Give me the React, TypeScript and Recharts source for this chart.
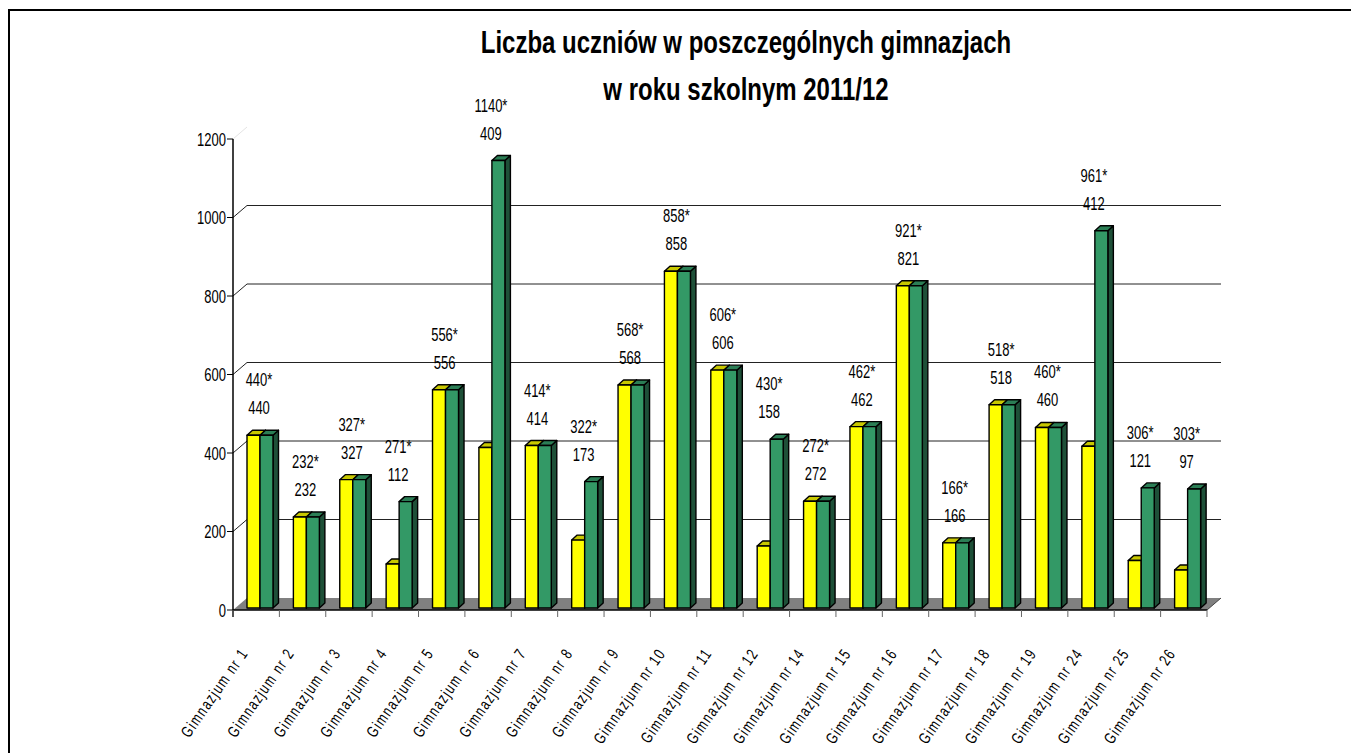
import { BarChart, Bar, XAxis, YAxis, CartesianGrid, LabelList } from 'recharts';

const categories = [
  'Gimnazjum nr 1', 'Gimnazjum nr 2', 'Gimnazjum nr 3', 'Gimnazjum nr 4', 'Gimnazjum nr 5',
  'Gimnazjum nr 6', 'Gimnazjum nr 7', 'Gimnazjum nr 8', 'Gimnazjum nr 9', 'Gimnazjum nr 10',
  'Gimnazjum nr 11', 'Gimnazjum nr 12', 'Gimnazjum nr 14', 'Gimnazjum nr 15', 'Gimnazjum nr 16',
  'Gimnazjum nr 17', 'Gimnazjum nr 18', 'Gimnazjum nr 19', 'Gimnazjum nr 24', 'Gimnazjum nr 25',
  'Gimnazjum nr 26',
];
const yellowValues = [440, 232, 327, 112, 556, 409, 414, 173, 568, 858, 606, 158, 272, 462, 821, 166, 518, 460, 412, 121, 97];
const greenValues = [440, 232, 327, 271, 556, 1140, 414, 322, 568, 858, 606, 430, 272, 462, 821, 166, 518, 460, 961, 306, 303];
const greenLabels = ['440*', '232*', '327*', '271*', '556*', '1140*', '414*', '322*', '568*', '858*', '606*', '430*', '272*', '462*', '921*', '166*', '518*', '460*', '961*', '306*', '303*'];
const yTicks = [0, 200, 400, 600, 800, 1000, 1200];
const titleLines = ['Liczba uczniów w poszczególnych gimnazjach', 'w roku szkolnym 2011/12'];

const data = categories.map((name, i) => ({
  name,
  yellow: yellowValues[i],
  green: greenValues[i],
  star: greenLabels[i],
  plain: String(yellowValues[i]),
}));

// layout
const CHART_W = 1340;
const CHART_H = 740;
const MARGIN = { top: 128, right: 143, bottom: 11, left: 163 };
const Y_W = 60;
const X_H = 130;
const PLOT_TOP = MARGIN.top;
const PLOT_BOTTOM = CHART_H - MARGIN.bottom - X_H;
const PLOT_W = CHART_W - MARGIN.left - MARGIN.right - Y_W;
const BAND = PLOT_W / categories.length;

// 3d look
const DEPTH_X = 14;
const DEPTH_Y = 12;
const BAR_DX = 5.5;
const BAR_DY = 5;
const SHIFT_X = 4;
const SHIFT_Y = -2;

const FONT = '"Liberation Sans", Arial, sans-serif';
const STRETCH = 1.45;

const make3DBar = (front: string, top: string, side: string) => (props: any) => {
  const { x, y, width, height } = props;
  if (width == null || height == null || height <= 0) return <g />;
  const fx = x + SHIFT_X;
  const fy = y + SHIFT_Y;
  const w = width;
  const h = height;
  return (
    <g stroke="#000" strokeWidth={1.4} strokeLinejoin="round">
      <polygon
        points={`${fx + w},${fy} ${fx + w + BAR_DX},${fy - BAR_DY} ${fx + w + BAR_DX},${fy + h - BAR_DY} ${fx + w},${fy + h}`}
        fill={side}
      />
      <polygon
        points={`${fx},${fy} ${fx + BAR_DX},${fy - BAR_DY} ${fx + w + BAR_DX},${fy - BAR_DY} ${fx + w},${fy}`}
        fill={top}
      />
      <rect x={fx} y={fy} width={w} height={h} fill={front} />
    </g>
  );
};

const renderGridLine = (props: any) => {
  const { x1, x2, y1, key } = props;
  if (Math.abs(y1 - PLOT_BOTTOM) < 1) {
    return (
      <g key={key}>
        <polygon
          points={`${x1},${y1} ${x1 + DEPTH_X},${y1 - DEPTH_Y} ${x2 + DEPTH_X},${y1 - DEPTH_Y} ${x2},${y1}`}
          fill="#808080"
        />
        <line x1={x2} y1={y1} x2={x2 + DEPTH_X} y2={y1 - DEPTH_Y} stroke="#444" strokeWidth={1} />
        <line x1={x1} y1={y1} x2={x1} y2={y1 + 7} stroke="#000" strokeWidth={1.5} />
      </g>
    );
  }
  if (Math.abs(y1 - PLOT_TOP) < 1) {
    return <line key={key} x1={x1} y1={y1} x2={x1 + DEPTH_X} y2={y1 - DEPTH_Y} stroke="#e4e4e4" strokeWidth={1} />;
  }
  return (
    <g key={key} stroke="#222" strokeWidth={1}>
      <line x1={x1} y1={y1} x2={x1 + DEPTH_X} y2={y1 - DEPTH_Y} />
      <line x1={x1 + DEPTH_X} y1={y1 - DEPTH_Y} x2={x2 + DEPTH_X} y2={y1 - DEPTH_Y} />
    </g>
  );
};

const stretchedText = (x: number, y: number, text: string, size: number, anchor: string) => (
  <text
    transform={`translate(${x},${y}) scale(1,${STRETCH})`}
    textAnchor={anchor}
    fontSize={size}
    fontFamily={FONT}
    fill="#000"
  >
    {text}
  </text>
);

const makeBarLabel = (lift: number) => (props: any) => {
  const vb = props.viewBox || {};
  const x = props.x ?? vb.x;
  const y = props.y ?? vb.y;
  if (x == null || y == null) return null;
  return <g key={`${lift}-${props.index}`}>{stretchedText(x + 3, y - lift, String(props.value), 13, 'middle')}</g>;
};

const YTick = (props: any) => {
  const { x, y, payload } = props;
  return (
    <text
      transform={`translate(${x},${y}) scale(1,${STRETCH})`}
      textAnchor="end"
      dy="0.35em"
      fontSize={13}
      fontFamily={FONT}
      fill="#000"
    >
      {payload.value}
    </text>
  );
};

const XTick = (props: any) => {
  const { x, y, payload, index } = props;
  const last = index === categories.length - 1;
  return (
    <g>
      <line x1={x - BAND / 2} y1={y} x2={x - BAND / 2} y2={y + 7} stroke="#666" strokeWidth={1} />
      {last && <line x1={x + BAND / 2} y1={y} x2={x + BAND / 2} y2={y + 7} stroke="#666" strokeWidth={1} />}
      <text
        transform={`translate(${x - 12},${y + 40}) rotate(-55) scale(1,1.35)`}
        textAnchor="end"
        dy="0.35em"
        fontSize={12}
        letterSpacing={1.4}
        fontFamily={FONT}
        fill="#000"
      >
        {payload.value}
      </text>
    </g>
  );
};

const App = () => {
  return (
    <div
      style={{
        position: 'relative',
        top: 1,
        width: 1400,
        height: 800,
        border: '2px solid #000',
        background: '#fff',
      }}
    >
      <BarChart
        width={CHART_W}
        height={CHART_H}
        data={data}
        margin={MARGIN}
        barGap={0}
        barSize={13}
      >
        <CartesianGrid vertical={false} horizontal={renderGridLine} />
        <XAxis
          dataKey="name"
          interval={0}
          height={X_H}
          tickLine={false}
          tickSize={0}
          tickMargin={0}
          axisLine={{ stroke: '#000', strokeWidth: 1.5 }}
          tick={<XTick />}
        />
        <YAxis
          width={Y_W}
          domain={[0, 1200]}
          ticks={yTicks}
          interval={0}
          tickSize={6}
          tickMargin={1}
          axisLine={{ stroke: '#000', strokeWidth: 1.5 }}
          tickLine={{ stroke: '#000', strokeWidth: 1 }}
          tick={<YTick />}
        />
        <Bar
          dataKey="yellow"
          fill="#FFFF00"
          isAnimationActive={false}
          shape={make3DBar('#FFFF00', '#C8C800', '#A8A800')}
        />
        <Bar
          dataKey="green"
          fill="#339966"
          isAnimationActive={false}
          shape={make3DBar('#339966', '#2B7E55', '#1E5038')}
        >
          <LabelList dataKey="star" content={makeBarLabel(51)} />
          <LabelList dataKey="plain" content={makeBarLabel(23)} />
        </Bar>
      </BarChart>
      <svg
        width={CHART_W}
        height={120}
        style={{ position: 'absolute', left: 0, top: 0, pointerEvents: 'none' }}
      >
        {titleLines.map((line, i) => (
          <text
            key={line}
            transform={`translate(736,${42 + i * 47}) scale(1,1.33)`}
            textAnchor="middle"
            fontSize={24}
            fontWeight="bold"
            fontFamily={FONT}
            fill="#000"
          >
            {line}
          </text>
        ))}
      </svg>
    </div>
  );
};

export default App;
